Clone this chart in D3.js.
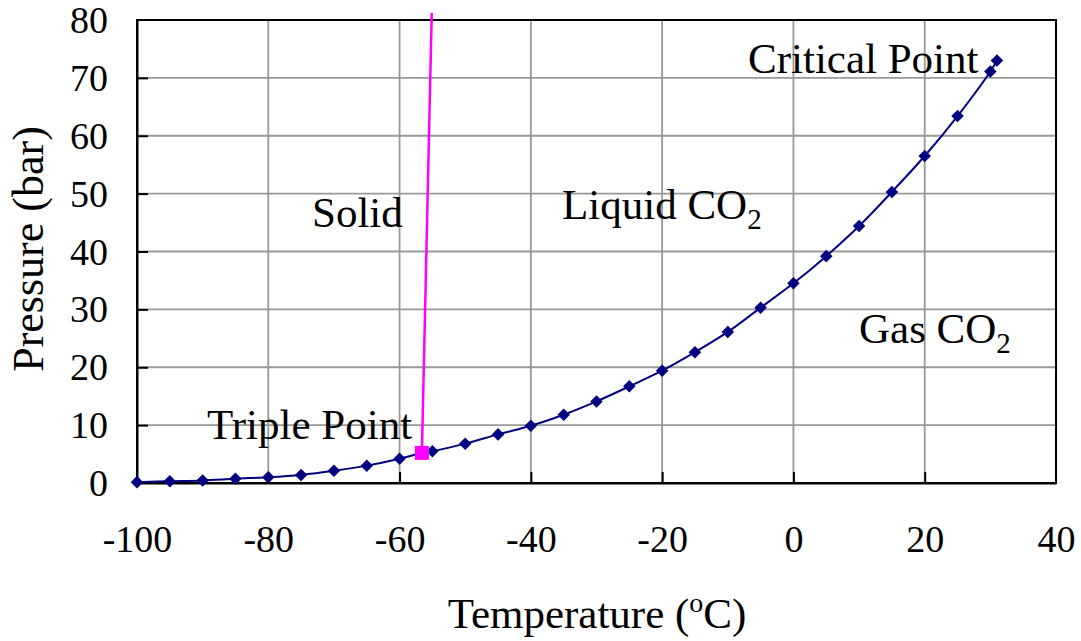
<!DOCTYPE html>
<html>
<head>
<meta charset="utf-8">
<script src="https://cdn.jsdelivr.net/npm/d3@7"></script>
<style>
  body { margin: 0; background: #fff; }
  svg text { font-family: "Liberation Serif", "Times New Roman", serif; fill: #000; }
</style>
</head>
<body>
<svg id="chart" width="1081" height="641"></svg>
<script>
// vapour pressure curve (temperature in degC, pressure in bar)
const temps = [-100, -95, -90, -85, -80, -75, -70, -65, -60, -56.6, -55, -50, -45, -40, -35, -30,
  -25, -20, -15, -10, -5, 0, 5, 10, 15, 20, 25, 30, 31];
const pressures = [0.15, 0.3, 0.45, 0.75, 1.0, 1.4, 2.1, 3.0, 4.2, 5.2, 5.5, 6.8, 8.4, 9.9, 11.8, 14.1,
  16.7, 19.4, 22.6, 26.1, 30.3, 34.5, 39.2, 44.4, 50.3, 56.5, 63.4, 71.1, 73.0];

// melting line from the triple point upwards
const meltTemps = [-56.6, -55.1];
const meltPressures = [5.2, 81.2];

const triplePoint = { t: -56.6, p: 5.2 };

const xTicks = [-100, -80, -60, -40, -20, 0, 20, 40];
const yTicks = [0, 10, 20, 30, 40, 50, 60, 70, 80];

const MARGIN = { top: 20, right: 25, bottom: 158, left: 137 };
const WIDTH = 1081, HEIGHT = 641;

const svg = d3.select("#chart");

const x = d3.scaleLinear().domain([-100, 40]).range([MARGIN.left, WIDTH - MARGIN.right]);
const y = d3.scaleLinear().domain([0, 80]).range([HEIGHT - MARGIN.bottom, MARGIN.top]);

// grid
svg.append("g")
  .selectAll("line.v")
  .data(xTicks.slice(1, -1))
  .join("line")
  .attr("x1", d => x(d)).attr("x2", d => x(d))
  .attr("y1", y(0)).attr("y2", y(80))
  .attr("stroke", "#999").attr("stroke-width", 1.8);

svg.append("g")
  .selectAll("line.h")
  .data(yTicks.slice(1, -1))
  .join("line")
  .attr("x1", x(-100)).attr("x2", x(40))
  .attr("y1", d => y(d)).attr("y2", d => y(d))
  .attr("stroke", "#999").attr("stroke-width", 1.8);

// plot border
svg.append("rect")
  .attr("x", x(-100)).attr("y", y(80))
  .attr("width", x(40) - x(-100)).attr("height", y(0) - y(80))
  .attr("fill", "none").attr("stroke", "#000").attr("stroke-width", 2);

// axes, ticks pointing inwards
const xAxis = svg.append("g")
  .attr("transform", `translate(0,${y(0)})`)
  .call(d3.axisBottom(x).tickValues(xTicks).tickSize(-11).tickSizeOuter(0).tickFormat(d3.format("d")));
const yAxis = svg.append("g")
  .attr("transform", `translate(${x(-100)},0)`)
  .call(d3.axisLeft(y).tickValues(yTicks).tickSize(-11).tickSizeOuter(0));

[xAxis, yAxis].forEach(a => {
  a.select(".domain").attr("stroke", "#000").attr("stroke-width", 2);
  a.selectAll(".tick line").attr("stroke", "#000").attr("stroke-width", 2);
  a.selectAll(".tick text").attr("font-size", 38).attr("font-family", null);
});
xAxis.selectAll(".tick text").attr("y", 69).attr("dy", 0).text(d => d < 0 ? "-" + Math.abs(d) : d);
yAxis.selectAll(".tick text").attr("x", -29).attr("dy", "0.33em");
xAxis.selectAll(".tick").filter(d => d === -100 || d === 40).select("line").remove();
yAxis.selectAll(".tick").filter(d => d === 0 || d === 80).select("line").remove();

// axis titles
const xTitle = svg.append("text")
  .attr("x", 597).attr("y", 628)
  .attr("text-anchor", "middle").attr("font-size", 43);
xTitle.append("tspan").text("Temperature (");
xTitle.append("tspan").attr("font-size", 28).attr("dy", -16).text("o");
xTitle.append("tspan").attr("dy", 16).text("C)");

svg.append("text")
  .attr("transform", "translate(43,249) rotate(-90)")
  .attr("text-anchor", "middle").attr("font-size", 44)
  .text("Pressure (bar)");

// vapour pressure curve
const pts = temps.map((t, i) => ({ t, p: pressures[i] }));
svg.append("path")
  .datum(pts)
  .attr("fill", "none").attr("stroke", "#000080").attr("stroke-width", 2)
  .attr("d", d3.line().x(d => x(d.t)).y(d => y(d.p)).curve(d3.curveCatmullRom));

svg.append("g")
  .selectAll("path")
  .data(pts)
  .join("path")
  .attr("transform", d => `translate(${x(d.t)},${y(d.p)})`)
  .attr("d", d3.symbol(d3.symbolDiamond2, 100))
  .attr("fill", "#000080");

// melting line
const melt = meltTemps.map((t, i) => ({ t, p: meltPressures[i] }));
svg.append("path")
  .datum(melt)
  .attr("fill", "none").attr("stroke", "#ff00ff").attr("stroke-width", 2.5)
  .attr("d", d3.line().x(d => x(d.t)).y(d => y(d.p)));

svg.append("rect")
  .attr("x", x(triplePoint.t) - 7).attr("y", y(triplePoint.p) - 7)
  .attr("width", 14).attr("height", 14)
  .attr("fill", "#ff00ff");

// region / point labels
function label(tx, ty, main, sub) {
  const t = svg.append("text").attr("x", tx).attr("y", ty).attr("font-size", 43);
  t.append("tspan").text(main);
  if (sub) t.append("tspan").attr("font-size", 29).attr("dy", 10).text(sub);
}
label(312, 227, "Solid");
label(562, 219, "Liquid CO", "2");
label(859, 343, "Gas CO", "2");
label(207, 439, "Triple Point");
label(748, 73, "Critical Point");
</script>
</body>
</html>
